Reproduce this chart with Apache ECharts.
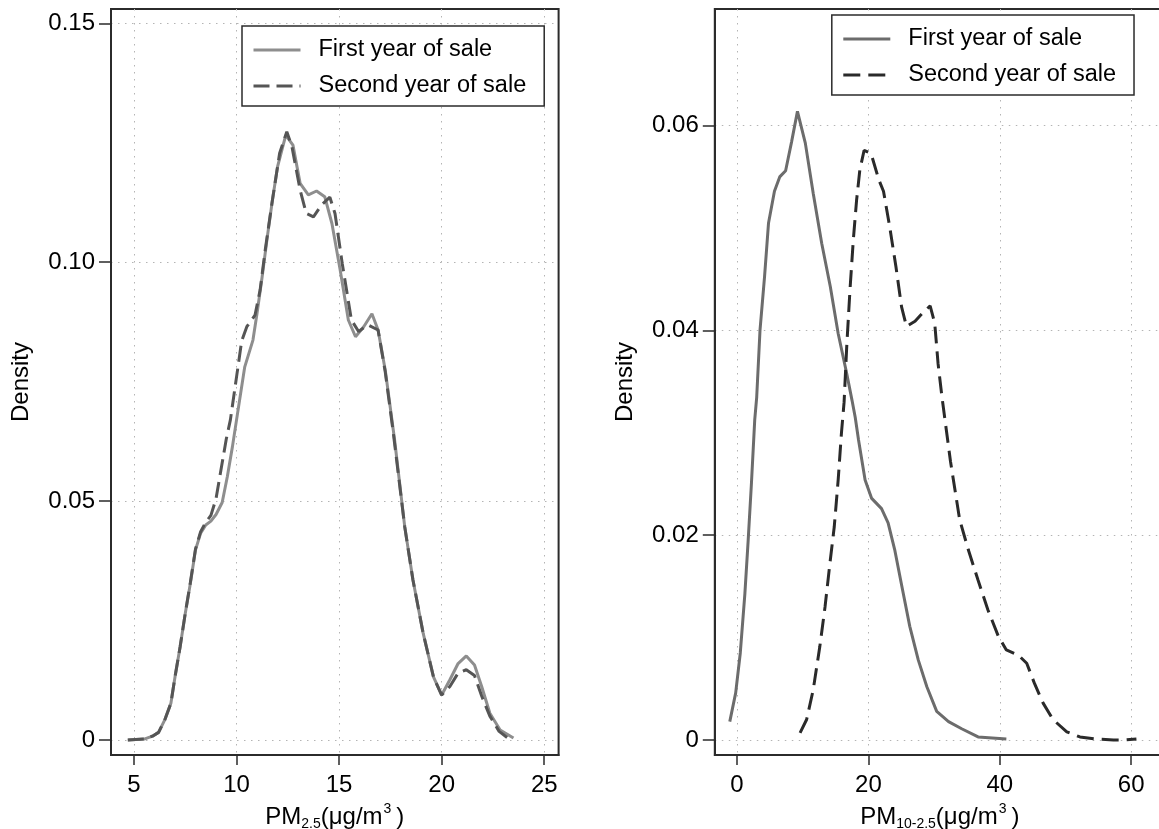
<!DOCTYPE html>
<html>
<head>
<meta charset="utf-8">
<script src="https://cdn.jsdelivr.net/npm/echarts@6/dist/echarts.min.js"></script>
<style>
html,body{margin:0;padding:0;background:#fff;}
#chart{width:1159px;height:829px;}
</style>
</head>
<body>
<div id="chart"></div>
<script>
// ---------- data ----------
const seriesNames = ['First year of sale', 'Second year of sale'];

// Left panel: PM2.5
const pm25FirstX  = [4.7, 5.5, 5.9, 6.2, 6.5, 6.8, 7.0, 7.25, 7.5, 7.75, 8.0, 8.25, 8.5, 8.75, 9.0, 9.3, 9.55, 9.8, 10.0, 10.4, 10.8, 11.0, 11.25, 11.5, 11.75, 12.0, 12.4, 12.75, 13.1, 13.5, 13.9, 14.3, 14.65, 15.05, 15.45, 15.8, 16.2, 16.6, 16.9, 17.25, 17.7, 18.2, 18.6, 19.1, 19.6, 20.0, 20.4, 20.8, 21.2, 21.6, 21.95, 22.35, 22.85, 23.5];
const pm25FirstY  = [0, 0.0002, 0.0008, 0.0016, 0.0042, 0.0077, 0.0132, 0.0195, 0.0265, 0.0328, 0.0398, 0.0433, 0.0450, 0.0458, 0.0472, 0.0497, 0.0551, 0.0614, 0.0670, 0.0781, 0.0837, 0.0893, 0.0970, 0.1053, 0.1130, 0.1200, 0.1266, 0.1245, 0.1165, 0.1141, 0.1149, 0.1137, 0.1081, 0.0984, 0.0879, 0.0844, 0.0865, 0.0892, 0.0858, 0.0774, 0.0630, 0.0446, 0.0335, 0.0223, 0.0132, 0.0094, 0.0126, 0.0160, 0.0176, 0.0157, 0.0112, 0.0056, 0.0021, 0.0004];
const pm25SecondX = [4.7, 5.5, 5.9, 6.2, 6.5, 6.8, 7.0, 7.25, 7.5, 7.75, 8.0, 8.25, 8.5, 8.75, 9.0, 9.3, 9.5, 9.7, 10.0, 10.25, 10.5, 10.9, 11.15, 11.4, 11.7, 12.1, 12.45, 12.7, 13.1, 13.4, 13.75, 14.15, 14.55, 14.8, 15.15, 15.6, 15.95, 16.4, 16.9, 17.25, 17.65, 18.2, 18.6, 19.1, 19.6, 20.0, 20.4, 20.8, 21.2, 21.6, 21.95, 22.35, 22.8, 23.2];
const pm25SecondY = [0, 0.0002, 0.0008, 0.0016, 0.0042, 0.0077, 0.0132, 0.0195, 0.0265, 0.0330, 0.0400, 0.0436, 0.0456, 0.0470, 0.0505, 0.0580, 0.0630, 0.0670, 0.0760, 0.0835, 0.0865, 0.0889, 0.0942, 0.1026, 0.1116, 0.1228, 0.1273, 0.1242, 0.1151, 0.1102, 0.1095, 0.1120, 0.1136, 0.1102, 0.0998, 0.0879, 0.0855, 0.0869, 0.0858, 0.0770, 0.0640, 0.0446, 0.0335, 0.0223, 0.0132, 0.0094, 0.0112, 0.0140, 0.0147, 0.0135, 0.0092, 0.0050, 0.0018, 0.0005];

// Right panel: PM10-2.5
const coarseFirstX  = [-1.1, -0.2, 0.5, 1.2, 1.7, 2.2, 2.7, 3.0, 3.5, 4.2, 4.8, 5.7, 6.5, 7.4, 8.3, 9.2, 10.4, 11.6, 12.9, 14.2, 15.4, 16.7, 17.5, 18.0, 18.5, 19.5, 20.5, 22.0, 23.0, 24.0, 25.1, 26.3, 27.6, 28.9, 30.4, 32.2, 34.2, 36.7, 41.0];
const coarseFirstY  = [0.0018, 0.0046, 0.0085, 0.0143, 0.0195, 0.0251, 0.0313, 0.0335, 0.0400, 0.0453, 0.0505, 0.0536, 0.0550, 0.0556, 0.0584, 0.0614, 0.0583, 0.0534, 0.0485, 0.0443, 0.0397, 0.0358, 0.0332, 0.0315, 0.0293, 0.0254, 0.0236, 0.0226, 0.0212, 0.0186, 0.0150, 0.0111, 0.0078, 0.0052, 0.0028, 0.0018, 0.0011, 0.0003, 0.0001];
const coarseSecondX = [9.6, 10.6, 11.6, 12.6, 13.4, 14.15, 14.8, 15.4, 15.9, 16.3, 16.7, 17.2, 17.7, 18.2, 18.7, 19.35, 20.4, 21.6, 22.3, 23.2, 24.2, 25.05, 25.8, 27.1, 28.4, 29.4, 30.1, 30.6, 31.2, 32.5, 33.9, 35.2, 36.7, 38.2, 39.8, 41.0, 42.8, 44.1, 45.3, 46.6, 48.1, 50.2, 52.2, 54.7, 57.3, 58.8, 60.8];
const coarseSecondY = [0.0007, 0.0020, 0.0049, 0.0091, 0.0130, 0.0173, 0.0208, 0.0254, 0.0300, 0.0330, 0.0384, 0.0440, 0.0488, 0.0527, 0.0557, 0.0576, 0.0573, 0.0547, 0.0536, 0.0503, 0.0462, 0.0423, 0.0404, 0.0409, 0.0418, 0.0424, 0.0407, 0.0368, 0.0335, 0.0272, 0.0215, 0.0186, 0.0156, 0.0127, 0.0101, 0.0088, 0.0083, 0.0075, 0.0055, 0.0036, 0.0020, 0.0008, 0.0003, 0.0001, 0, 0, 0.0001];

// tick values
const pm25XTicks   = [5, 10, 15, 20, 25];
const pm25YTicks   = [0, 0.05, 0.10, 0.15];
const coarseXTicks = [0, 20, 40, 60];
const coarseYTicks = [0, 0.02, 0.04, 0.06];

// ---------- build ----------
const zip = (xs, ys) => xs.map((x, i) => [x, ys[i]]);
const FONT = "'Liberation Sans', Arial, Helvetica, sans-serif";
const INK = '#2b2b2b';
const yFmt = v => (Math.abs(v) < 1e-9 ? '0' : v.toFixed(2));

function xAxisCfg(grid, min, max, ticks, splitNumber, nameRich) {
  return {
    type: 'value', gridIndex: grid, min: min, max: max, splitNumber: splitNumber,
    axisLine: { show: true, onZero: false, lineStyle: { color: INK, width: 2 } },
    axisTick: { show: true, inside: false, length: 10, customValues: ticks, lineStyle: { color: INK, width: 1.5 } },
    axisLabel: { show: true, customValues: ticks, margin: 18, fontSize: 24, color: '#000', fontFamily: FONT,
                 formatter: v => String(v) },
    splitLine: { show: true, lineStyle: { color: '#b4b4b4', width: 1, type: [1.5, 5.5] } },
    name: nameRich, nameLocation: 'middle', nameGap: 37,
    nameTextStyle: {
      color: '#000', fontFamily: FONT, fontSize: 24,
      rich: {
        a: { fontSize: 24, fontFamily: FONT, color: '#000', lineHeight: 30, verticalAlign: 'middle' },
        s: { fontSize: 14, fontFamily: FONT, color: '#000', lineHeight: 14, verticalAlign: 'bottom', padding: [0, 0, 1, 0] },
        p: { fontSize: 14, fontFamily: FONT, color: '#000', lineHeight: 14, verticalAlign: 'top', padding: [0, 5, 0, 1] }
      }
    }
  };
}
function yAxisCfg(grid, min, max, ticks, splitNumber, nameGap) {
  return {
    type: 'value', gridIndex: grid, min: min, max: max, splitNumber: splitNumber,
    axisLine: { show: true, onZero: false, lineStyle: { color: INK, width: 2 } },
    axisTick: { show: true, inside: false, length: 12, customValues: ticks, lineStyle: { color: INK, width: 1.5 } },
    axisLabel: { show: true, customValues: ticks, margin: 16, fontSize: 24, color: '#000', fontFamily: FONT, formatter: yFmt },
    splitLine: { show: true, lineStyle: { color: '#b4b4b4', width: 1, type: [1.5, 5.5] } },
    name: 'Density', nameLocation: 'middle', nameGap: nameGap, nameRotate: 90,
    nameTextStyle: { color: '#000', fontFamily: FONT, fontSize: 24 }
  };
}
function lineSeries(name, xi, data, color, width, dash, z) {
  return {
    type: 'line', name: name, xAxisIndex: xi, yAxisIndex: xi, data: data,
    symbol: 'none', smooth: false, clip: true, z: z,
    lineStyle: { color: color, width: width, type: dash },
    itemStyle: { color: color },
    emphasis: { disabled: true }, animation: false
  };
}
const hiddenMarker = { color: 'rgba(0,0,0,0)', borderColor: 'rgba(0,0,0,0)', borderWidth: 0, opacity: 0 };
function legendCfg(left, top, padding, styles) {
  return {
    orient: 'vertical', left: left, top: top, padding: padding, itemGap: 12,
    itemWidth: 47, itemHeight: 14, borderColor: INK, borderWidth: 1.5, backgroundColor: '#fff',
    selectedMode: false,
    textStyle: { fontSize: 23.5, color: '#000', fontFamily: FONT, lineHeight: 24, padding: [0, 0, 0, 13] },
    data: seriesNames.map((n, i) => ({ name: n, lineStyle: styles[i], itemStyle: hiddenMarker }))
  };
}

const leftStyles = [
  { color: '#8e8e8e', width: 3, type: 'solid' },
  { color: '#555555', width: 3, type: [16, 7] }
];
const rightStyles = [
  { color: '#6c6c6c', width: 3, type: 'solid' },
  { color: '#2a2a2a', width: 3, type: [17, 8] }
];

const option = {
  backgroundColor: '#fff',
  animation: false,
  grid: [
    { left: 111, top: 9, width: 447.6, height: 746, show: true, borderColor: INK, borderWidth: 2,
      backgroundColor: 'transparent', containLabel: false, outerBoundsMode: 'none' },
    { left: 714.8, top: 9, width: 450, height: 746, show: true, borderColor: INK, borderWidth: 2,
      backgroundColor: 'transparent', containLabel: false, outerBoundsMode: 'none' }
  ],
  xAxis: [
    xAxisCfg(0, 3.88, 25.70, pm25XTicks, 4, '{a|PM}{s|2.5}{a|(μg/m}{p|3}{a|)}'),
    xAxisCfg(1, -3.38, 65.12, coarseXTicks, 3, '{a|PM}{s|10-2.5}{a|(μg/m}{p|3}{a|)}')
  ],
  yAxis: [
    yAxisCfg(0, -0.00314, 0.15299, pm25YTicks, 3, 78),
    yAxisCfg(1, -0.001465, 0.0714, coarseYTicks, 4, 77)
  ],
  legend: [
    legendCfg(242, 26, [12, 18, 8, 10], leftStyles),
    legendCfg(831.8, 15, [12, 18, 8, 10], rightStyles)
  ],
  series: [
    lineSeries(seriesNames[0], 0, zip(pm25FirstX, pm25FirstY), leftStyles[0].color, 3, 'solid', 2),
    lineSeries(seriesNames[1], 0, zip(pm25SecondX, pm25SecondY), leftStyles[1].color, 3, leftStyles[1].type, 3),
    lineSeries(seriesNames[0], 1, zip(coarseFirstX, coarseFirstY), rightStyles[0].color, 3, 'solid', 2),
    lineSeries(seriesNames[1], 1, zip(coarseSecondX, coarseSecondY), rightStyles[1].color, 3, rightStyles[1].type, 3)
  ]
};

const chart = echarts.init(document.getElementById('chart'), null, { renderer: 'canvas' });
chart.setOption(option);
</script>
</body>
</html>
